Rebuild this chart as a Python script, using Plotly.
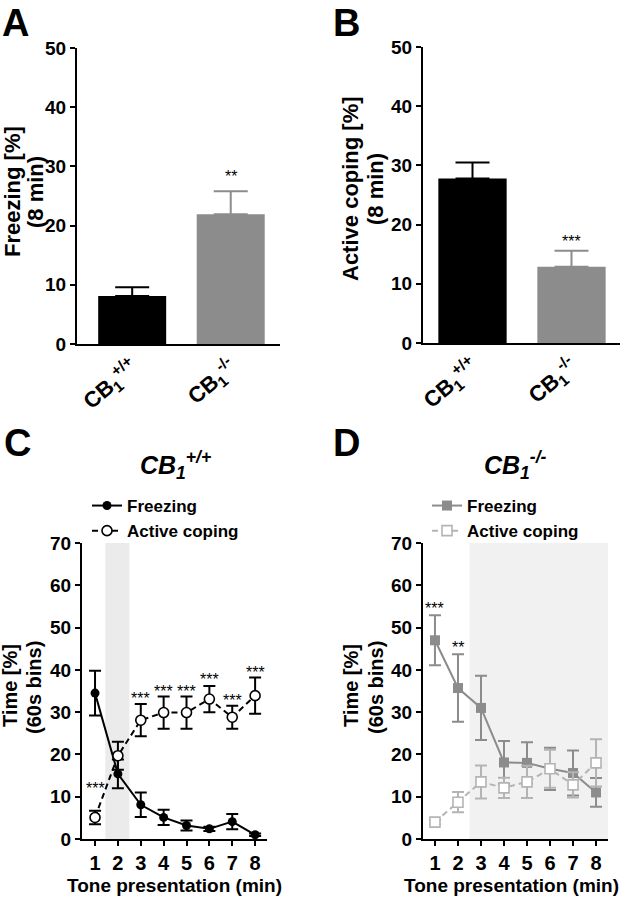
import plotly.graph_objects as go

W, H = 626, 899

# ---- data ----
groups = ["<b>CB<sub>1</sub><sup>+/+</sup></b>", "<b>CB<sub>1</sub><sup>-/-</sup></b>"]
freezing_8min = [8.1, 21.9]
freezing_8min_sem = [1.5, 3.9]
active_8min = [27.8, 12.9]
active_8min_sem = [2.7, 2.7]
bar_colors = ["#000000", "#8c8c8c"]

minutes = [1, 2, 3, 4, 5, 6, 7, 8]
wt_freezing = [34.5, 15.4, 8.1, 5.1, 3.2, 2.4, 4.1, 1.0]
wt_freezing_sem = [5.3, 3.4, 2.9, 1.8, 1.2, 0.5, 1.8, 0.3]
wt_active = [5.1, 19.7, 28.1, 29.9, 29.9, 33.1, 28.8, 33.9]
wt_active_sem = [1.6, 3.3, 3.8, 3.8, 3.8, 3.1, 2.7, 4.3]
ko_freezing = [47.0, 35.7, 31.0, 18.1, 18.0, 16.6, 15.6, 11.0]
ko_freezing_sem = [5.9, 8.0, 7.6, 5.1, 4.9, 5.0, 5.3, 3.4]
ko_active = [4.0, 8.7, 13.5, 12.1, 13.5, 16.6, 12.8, 18.0]
ko_active_sem = [0.5, 2.4, 3.9, 2.4, 3.8, 4.5, 3.0, 5.6]

# significance marks
freezing_8min_star = ["", "**"]
freezing_8min_star_y = [0, 28.9]
active_8min_star = ["", "***"]
active_8min_star_y = [0, 17.9]
wt_star_x = [1, 3, 4, 5, 6, 7, 8]
wt_star_y = [12.8, 34.1, 35.9, 35.9, 38.7, 33.6, 40.3]
ko_star_x = [1, 2]
ko_star_y = [55.4, 46.3]
ko_star_text = ["***", "**"]

# shaded tone windows
wt_shade = [1.45, 2.5]
ko_shade = [2.5, 8.52]

FONT = "Arial, Liberation Sans, sans-serif"


def px_x(p):
    return p / W


def px_y(p):
    return 1 - p / H


fig = go.Figure()
star_font = dict(family=FONT, size=16, color="black")

# ---- A / B bars ----
for vals, sem, stars, star_y, ax in [
        (freezing_8min, freezing_8min_sem, freezing_8min_star, freezing_8min_star_y, ""),
        (active_8min, active_8min_sem, active_8min_star, active_8min_star_y, "2")]:
    for j in range(2):
        fig.add_trace(go.Bar(
            x=[j], y=[vals[j]], width=0.69,
            marker=dict(color=bar_colors[j], line=dict(width=0)),
            error_y=dict(type="data", array=[sem[j]], arrayminus=[0], symmetric=False,
                         color=bar_colors[j], thickness=2, width=17),
            xaxis="x" + ax, yaxis="y" + ax, showlegend=False))
        if stars[j]:
            fig.add_annotation(x=j, y=star_y[j], text=stars[j], yshift=-4,
                               xref="x" + ax, yref="y" + ax, showarrow=False, font=star_font)

# ---- C: wild type time course ----
fig.add_trace(go.Scatter(
    x=minutes, y=wt_freezing, name="Freezing", mode="lines+markers",
    line=dict(color="black", width=2),
    marker=dict(symbol="circle", size=9, color="black"),
    error_y=dict(type="data", array=wt_freezing_sem, color="black", thickness=2, width=6),
    xaxis="x3", yaxis="y3", legend="legend"))
fig.add_trace(go.Scatter(
    x=minutes, y=wt_active, name="Active coping", mode="lines+markers",
    line=dict(color="black", width=2, dash="6px,4px"),
    marker=dict(symbol="circle", size=10, color="white", line=dict(color="black", width=1.6)),
    error_y=dict(type="data", array=wt_active_sem, color="black", thickness=2, width=6),
    xaxis="x3", yaxis="y3", legend="legend"))

# ---- D: knockout time course ----
fig.add_trace(go.Scatter(
    x=minutes, y=ko_freezing, name="Freezing", mode="lines+markers",
    line=dict(color="#8c8c8c", width=2),
    marker=dict(symbol="square", size=10, color="#8c8c8c"),
    error_y=dict(type="data", array=ko_freezing_sem, color="#8c8c8c", thickness=2, width=6),
    xaxis="x4", yaxis="y4", legend="legend2"))
fig.add_trace(go.Scatter(
    x=minutes, y=ko_active, name="Active coping", mode="lines+markers",
    line=dict(color="#b4b4b4", width=2, dash="6px,4px"),
    marker=dict(symbol="square", size=10, color="white", line=dict(color="#b4b4b4", width=1.6)),
    error_y=dict(type="data", array=ko_active_sem, color="#b4b4b4", thickness=2, width=6),
    xaxis="x4", yaxis="y4", legend="legend2"))

for x, y in zip(wt_star_x, wt_star_y):
    fig.add_annotation(x=x, y=y, text="***", xref="x3", yref="y3", showarrow=False,
                       yshift=-4, font=star_font)
for x, y, t in zip(ko_star_x, ko_star_y, ko_star_text):
    fig.add_annotation(x=x, y=y, text=t, xref="x4", yref="y4", showarrow=False,
                       yshift=-4, font=star_font)

fig.add_shape(type="rect", xref="x3", yref="y3", x0=wt_shade[0], x1=wt_shade[1], y0=0, y1=70,
              fillcolor="#ebebeb", line=dict(width=0), layer="below")
fig.add_shape(type="rect", xref="x4", yref="y4", x0=ko_shade[0], x1=ko_shade[1], y0=0, y1=70,
              fillcolor="#f1f1f1", line=dict(width=0), layer="below")

# ---- axes ----
tickfont = dict(family=FONT, size=19, color="black", weight="bold")
base = dict(showgrid=False, zeroline=False, showline=True, linecolor="black", linewidth=2,
            ticks="outside", ticklen=5, tickwidth=2, tickcolor="black", tickfont=tickfont,
            automargin=False)

fig.update_layout(
    xaxis=dict(base, domain=[px_x(77), px_x(280)], range=[-0.56, 1.5], anchor="y",
               tickvals=[0, 1], ticktext=groups, tickangle=-40, ticks="",
               tickfont=dict(tickfont, size=22)),
    yaxis=dict(base, domain=[px_y(344), px_y(48)], range=[0, 50], dtick=10, anchor="x"),
    xaxis2=dict(base, domain=[px_x(423), px_x(620)], range=[-0.5, 1.49], anchor="y2",
                tickvals=[0, 1], ticktext=groups, tickangle=-40, ticks="",
                tickfont=dict(tickfont, size=22)),
    yaxis2=dict(base, domain=[px_y(343), px_y(47)], range=[0, 50], dtick=10, anchor="x2"),
    xaxis3=dict(base, domain=[px_x(82), px_x(267)], range=[0.43, 8.52], dtick=1, anchor="y3",
                tickfont=dict(tickfont, size=20)),
    yaxis3=dict(base, domain=[px_y(839), px_y(543)], range=[0, 70], dtick=10, anchor="x3"),
    xaxis4=dict(base, domain=[px_x(423), px_x(608)], range=[0.48, 8.52], dtick=1, anchor="y4",
                tickfont=dict(tickfont, size=20)),
    yaxis4=dict(base, domain=[px_y(839), px_y(543)], range=[0, 70], dtick=10, anchor="x4"),
)

legend_style = dict(font=dict(family=FONT, size=17, color="black", weight="bold"),
                    bgcolor="rgba(0,0,0,0)", yanchor="top", xanchor="left",
                    tracegroupgap=0, itemwidth=30)
fig.update_layout(
    legend=dict(legend_style, x=px_x(87), y=px_y(488)),
    legend2=dict(legend_style, x=px_x(427), y=px_y(488)),
)

# ---- texts ----
big = dict(family=FONT, size=38, color="black", weight="bold")
ytitle_ab = dict(family=FONT, size=22, color="black", weight="bold")
label = dict(family=FONT, size=20, color="black", weight="bold")
texts = [
    ("C", 17, 443, big, 0), ("D", 346, 443, big, 0),
    ("Freezing [%]", 12, 192, ytitle_ab, -90), ("(8 min)", 35, 192, ytitle_ab, -90),
    ("Active coping [%]", 350, 189, ytitle_ab, -90), ("(8 min)", 375, 189, ytitle_ab, -90),
    ("Time [%]", 10, 686, label, -90), ("(60s bins)", 34, 688, label, -90),
    ("Time [%]", 351, 686, label, -90), ("(60s bins)", 376, 688, label, -90),
    ("Tone presentation (min)", 174, 885, dict(label, size=19), 0),
    ("Tone presentation (min)", 511, 885, dict(label, size=19), 0),
    ("<i>CB<sub>1</sub><sup>+/+</sup></i>", 175, 465, dict(label, size=25), 0),
    ("<i>CB<sub>1</sub><sup>-/-</sup></i>", 515, 465, dict(label, size=25), 0),
]
for t, x, y, f, ang in texts:
    fig.add_annotation(x=px_x(x), y=px_y(y), xref="paper", yref="paper", text=t,
                       showarrow=False, font=f, textangle=ang,
                       xanchor="center", yanchor="middle")

# top panel letters hang from the page edge
for t, x in [("A", 15), ("B", 346)]:
    fig.add_annotation(x=px_x(x), y=1, xref="paper", yref="paper", text=t,
                       showarrow=False, font=big, xanchor="center", yanchor="top")

fig.update_layout(
    width=W, height=H, margin=dict(l=0, r=0, t=0, b=0, autoexpand=False),
    paper_bgcolor="white", plot_bgcolor="white", barmode="overlay",
)

# drop the default page margin so the figure sits at the window origin
fig.write_html("out.html", config={"displayModeBar": False},
               post_script="document.body.style.margin='0';")
